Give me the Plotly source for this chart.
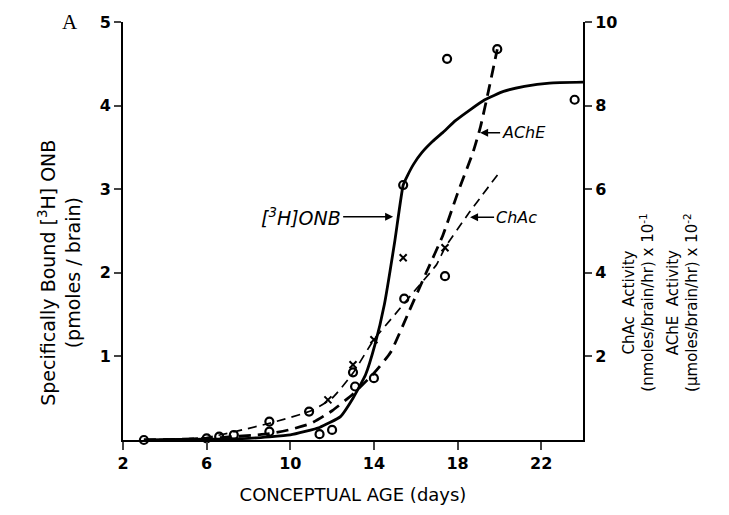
import plotly.graph_objects as go

# ---- data ----
onb_days = [3, 6, 8, 10, 11.4, 12.4, 13.0, 13.6, 14.05, 14.5, 15.0, 15.4, 15.6, 15.9, 16.3, 16.8, 17.3, 17.9, 18.6, 19.3, 20.2, 21.2, 22.4, 24.0]
onb_vals = [0.0, 0.01, 0.02, 0.06, 0.15, 0.28, 0.5, 0.78, 1.14, 1.62, 2.38, 3.05, 3.16, 3.30, 3.44, 3.57, 3.68, 3.82, 3.95, 4.07, 4.17, 4.23, 4.27, 4.28]

ache_days = [3, 6, 9, 10, 11, 12, 13, 14, 14.8, 15.7, 16.5, 17.3, 18.0, 18.75, 19.1, 19.5, 19.9]
ache_vals = [0.0, 0.04, 0.15, 0.25, 0.4, 0.7, 1.1, 1.6, 2.1, 3.1, 4.0, 4.9, 5.9, 6.9, 7.5, 8.4, 9.35]

chac_days = [3, 6, 9, 11, 12, 13, 14, 15, 16, 17, 17.4, 18.5, 20.0]
chac_vals = [0.0, 0.06, 0.4, 0.7, 1.0, 1.6, 2.4, 3.0, 3.6, 4.2, 4.6, 5.4, 6.4]

circ_days = [3.0, 6.0, 6.6, 7.3, 9.0, 9.0, 10.9, 11.4, 12.0, 13.0, 13.1, 14.0, 15.4, 15.45, 17.4, 17.5, 23.6]
circ_vals = [0.0, 0.02, 0.04, 0.06, 0.22, 0.1, 0.34, 0.07, 0.12, 0.81, 0.64, 0.74, 3.05, 1.69, 1.96, 4.56, 4.07]

ache_end_day = [19.9]
ache_end_val = [9.35]

xmark_days = [11.8, 13.0, 14.0, 15.4, 17.4]
xmark_vals = [0.96, 1.8, 2.4, 4.36, 4.6]

x_ticks = [2, 6, 10, 14, 18, 22]
y_ticks = [1, 2, 3, 4, 5]
y2_ticks = [2, 4, 6, 8, 10]

FONT = "DejaVu Sans"
TICKFONT = dict(family=FONT, size=16, color="black", weight="bold")

fig = go.Figure()
fig.add_trace(go.Scatter(x=onb_days, y=onb_vals, mode="lines", line=dict(color="black", width=2.8, shape="spline", smoothing=0.4), cliponaxis=False))
fig.add_trace(go.Scatter(x=ache_days, y=ache_vals, yaxis="y2", mode="lines", line=dict(color="black", width=2.8, dash="12px,7px", shape="spline", smoothing=0.5), cliponaxis=False))
fig.add_trace(go.Scatter(x=chac_days, y=chac_vals, yaxis="y2", mode="lines", line=dict(color="black", width=1.7, dash="9px,6px", shape="spline", smoothing=0.5), cliponaxis=False))
fig.add_trace(go.Scatter(x=circ_days, y=circ_vals, mode="markers", marker=dict(symbol="circle-open", size=8, color="black", line=dict(width=2.2)), cliponaxis=False))
fig.add_trace(go.Scatter(x=ache_end_day, y=ache_end_val, yaxis="y2", mode="markers", marker=dict(symbol="circle-open", size=8, color="black", line=dict(width=2.2)), cliponaxis=False))
fig.add_trace(go.Scatter(x=xmark_days, y=xmark_vals, yaxis="y2", mode="markers", marker=dict(symbol="x-thin-open", size=7, color="black", line=dict(width=2, color="black")), cliponaxis=False))

AF = dict(family=FONT, color="black")
ann = []
ann.append(dict(x=14.92, y=2.67, xref="x", yref="y", text="<i>[<sup>3</sup>H]ONB</i>", showarrow=True, arrowhead=2, arrowsize=1, arrowwidth=1.6, arrowcolor="black",
                ax=-50, ay=0, xanchor="right", font=dict(AF, size=19)))
ann.append(dict(x=19.08, y=7.35, xref="x", yref="y2", text="<i>AChE</i>", showarrow=True, arrowhead=2, arrowsize=1, arrowwidth=1.6, arrowcolor="black",
                ax=20, ay=0, xanchor="left", font=dict(AF, size=16)))
ann.append(dict(x=18.6, y=5.33, xref="x", yref="y2", text="<i>ChAc</i>", showarrow=True, arrowhead=2, arrowsize=1, arrowwidth=1.6, arrowcolor="black",
                ax=24, ay=0, xanchor="left", font=dict(AF, size=16)))
ann.append(dict(x=-0.115, y=1.0, xref="x domain", yref="y domain", xanchor="center", yanchor="middle", text="A", showarrow=False,
                font=dict(family="Liberation Serif", size=21, color="black")))
ann.append(dict(x=-0.137, y=0.40, xref="x domain", yref="y domain", xanchor="center", yanchor="middle",
                text="Specifically Bound [<sup>3</sup>H] ONB<br>(pmoles / brain)", textangle=-90, showarrow=False, font=dict(AF, size=19)))
ann.append(dict(x=1.121, y=0.33, xref="x domain", yref="y domain", xanchor="center", yanchor="middle",
                text="ChAc  Activity<br>(nmoles/brain/hr) x 10<sup>-1</sup>", textangle=-90, showarrow=False, font=dict(AF, size=15)))
ann.append(dict(x=1.217, y=0.33, xref="x domain", yref="y domain", xanchor="center", yanchor="middle",
                text="AChE  Activity<br>(μmoles/brain/hr) x 10<sup>-2</sup>", textangle=-90, showarrow=False, font=dict(AF, size=15)))

fig.update_layout(
    width=729, height=515,
    margin=dict(l=123, r=146, t=22, b=75),
    paper_bgcolor="white", plot_bgcolor="white",
    showlegend=False,
    font=dict(family=FONT, size=16, color="black"),
    xaxis=dict(range=[2, 24], tickvals=x_ticks, ticks="outside", ticklen=8, tickwidth=2, showline=True, linewidth=2, linecolor="black",
               showgrid=False, zeroline=False, tickfont=TICKFONT,
               title=dict(text="CONCEPTUAL AGE (days)", font=dict(family=FONT, size=18, color="black"), standoff=16)),
    yaxis=dict(range=[0, 5], tickvals=y_ticks, ticks="outside", ticklen=7, tickwidth=2, showline=True, linewidth=2, linecolor="black",
               showgrid=False, zeroline=False, tickfont=TICKFONT),
    yaxis2=dict(range=[0, 10], tickvals=y2_ticks, overlaying="y", side="right", ticks="outside", ticklen=7, tickwidth=2, showline=True, linewidth=2, linecolor="black",
                showgrid=False, zeroline=False, tickfont=TICKFONT),
    annotations=ann,
)

fig.write_html("out.html")
